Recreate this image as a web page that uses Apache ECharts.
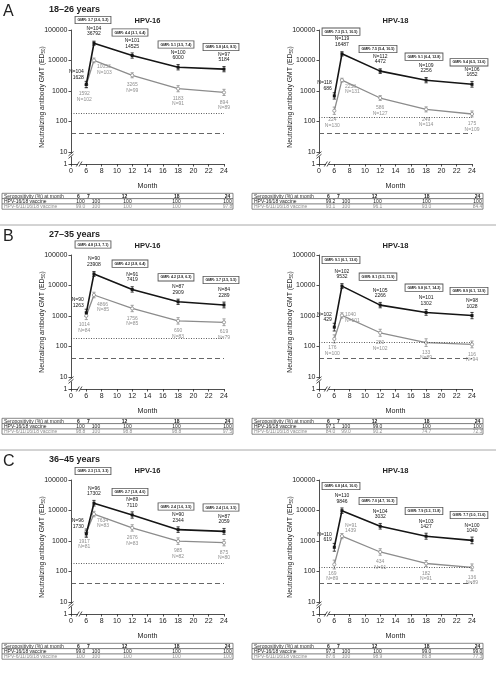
<!DOCTYPE html>
<html><head><meta charset="utf-8">
<script src="https://cdn.jsdelivr.net/npm/echarts@6/dist/echarts.min.js"></script>
<style>html,body{margin:0;padding:0;background:#fff}#c{width:496px;height:674px}</style>
</head><body><div id="c"></div>
<script>
// ---------------- DATA ----------------
const months = [6, 7, 12, 18, 24];
const tableMonths = ['6', '7', '12', '18', '24'];
const panelLetters = ['A', 'B', 'C'];
const ageGroups = ['18–26 years', '27–35 years', '36–45 years'];
const hpvTypes = ['HPV-16', 'HPV-18'];
const vaccineNames = ['HPV-16/18 vaccine', 'HPV-6/11/16/18 vaccine'];
const tableHeader = 'Seropositivity (%) at month';
const naturalInfectionLevel = [180, 137];
const seroCutoff = 40;

// Panel A, HPV-16
const gmtA16_bi = [1628, 36792, 14525, 6000, 5184];
const nA16_bi = [104, 104, 101, 100, 97];
const loA16_bi = [1280, 31500, 11900, 4900, 4250];
const hiA16_bi = [2070, 43000, 17700, 7350, 6320];
const gmtA16_qv = [1592, 10053, 3265, 1183, 894];
const nA16_qv = [102, 103, 99, 91, 89];
const loA16_qv = [1280, 8400, 2700, 940, 710];
const hiA16_qv = [1980, 12000, 3950, 1490, 1130];
const gmrA16 = ['GMR: 3.7 (2.6, 5.2)', 'GMR: 4.4 (3.1, 6.4)', 'GMR: 5.1 (3.5, 7.4)', 'GMR: 5.8 (4.0, 8.5)'];
const seroA16_bi = ['100', '100', '100', '100', '100'];
const seroA16_qv = ['99.0', '100', '100', '100', '97.8'];
// Panel A, HPV-18
const gmtA18_bi = [686, 16487, 4472, 2256, 1652];
const nA18_bi = [118, 119, 112, 109, 106];
const loA18_bi = [540, 14000, 3750, 1850, 1330];
const hiA18_bi = [870, 19400, 5330, 2750, 2050];
const gmtA18_qv = [224, 2258, 586, 249, 175];
const nA18_qv = [130, 131, 127, 114, 109];
const loA18_qv = [170, 1950, 490, 205, 140];
const hiA18_qv = [295, 2610, 700, 300, 220];
const gmrA18 = ['GMR: 7.3 (5.1, 10.5)', 'GMR: 7.5 (5.4, 10.5)', 'GMR: 9.1 (6.4, 12.8)', 'GMR: 9.4 (6.5, 13.6)'];
const seroA18_bi = ['99.2', '100', '100', '100', '100'];
const seroA18_qv = ['93.1', '100', '96.1', '93.0', '84.4'];
// Panel B, HPV-16
const gmtB16_bi = [1263, 23908, 7419, 2909, 2289];
const nB16_bi = [90, 90, 91, 87, 84];
const loB16_bi = [960, 19900, 6050, 2380, 1840];
const hiB16_bi = [1660, 28700, 9100, 3550, 2850];
const gmtB16_qv = [1014, 4866, 1756, 690, 619];
const nB16_qv = [84, 85, 85, 83, 79];
const loB16_qv = [760, 3950, 1380, 540, 480];
const hiB16_qv = [1350, 6000, 2230, 880, 800];
const gmrB16 = ['GMR: 4.8 (3.3, 7.1)', 'GMR: 4.2 (2.8, 6.4)', 'GMR: 4.2 (2.8, 6.3)', 'GMR: 3.7 (2.5, 5.5)'];
const seroB16_bi = ['100', '100', '100', '100', '100'];
const seroB16_qv = ['98.8', '100', '98.8', '98.8', '97.5'];
// Panel B, HPV-18
const gmtB18_bi = [429, 9532, 2266, 1302, 1028];
const nB18_bi = [102, 102, 105, 101, 98];
const loB18_bi = [320, 7900, 1850, 1050, 810];
const hiB18_bi = [575, 11500, 2780, 1610, 1300];
const gmtB18_qv = [176, 1040, 280, 133, 116];
const nB18_qv = [100, 101, 102, 89, 94];
const loB18_qv = [130, 850, 215, 100, 90];
const hiB18_qv = [240, 1270, 365, 178, 150];
const gmrB18 = ['GMR: 9.1 (6.1, 13.6)', 'GMR: 8.1 (5.5, 11.9)', 'GMR: 9.8 (6.7, 14.2)', 'GMR: 8.9 (6.1, 12.9)'];
const seroB18_bi = ['97.1', '100', '99.0', '100', '100'];
const seroB18_qv = ['84.0', '99.0', '90.2', '74.7', '72.3'];
// Panel C, HPV-16
const gmtC16_bi = [1730, 17302, 7110, 2344, 2059];
const nC16_bi = [96, 96, 89, 90, 87];
const loC16_bi = [1320, 14000, 5600, 1900, 1650];
const hiC16_bi = [2270, 21400, 9000, 2900, 2570];
const gmtC16_qv = [1917, 7634, 2676, 985, 875];
const nC16_qv = [81, 83, 83, 82, 80];
const loC16_qv = [1450, 6200, 2100, 770, 690];
const hiC16_qv = [2530, 9400, 3400, 1260, 1110];
const gmrC16 = ['GMR: 2.3 (1.5, 3.3)', 'GMR: 2.7 (1.8, 4.0)', 'GMR: 2.4 (1.6, 3.5)', 'GMR: 2.4 (1.6, 3.5)'];
const seroC16_bi = ['99.0', '100', '100', '100', '100'];
const seroC16_qv = ['100', '100', '100', '100', '100'];
// Panel C, HPV-18
const gmtC18_bi = [619, 9846, 3032, 1427, 1040];
const nC18_bi = [110, 110, 104, 103, 100];
const loC18_bi = [460, 8000, 2450, 1140, 810];
const hiC18_bi = [830, 12100, 3750, 1790, 1340];
const gmtC18_qv = [169, 1439, 434, 182, 136];
const nC18_qv = [89, 91, 91, 91, 89];
const loC18_qv = [120, 1180, 340, 145, 105];
const hiC18_qv = [235, 1750, 555, 228, 176];
const gmrC18 = ['GMR: 6.8 (4.6, 10.0)', 'GMR: 7.0 (4.7, 10.3)', 'GMR: 7.9 (5.3, 11.8)', 'GMR: 7.7 (5.0, 11.6)'];
const seroC18_bi = ['97.3', '100', '100', '99.0', '99.0'];
const seroC18_qv = ['87.6', '100', '98.9', '86.8', '77.3'];

// ---------------- LAYOUT ----------------
const FONT = '"Liberation Sans", Arial, Helvetica, sans-serif';
const BLACK = '#151515', GRAY = '#8c8c8c', GRAYTXT = '#909090', DARK = '#222';
const panelDy = [0, 225, 450];
const gridLeft = [71, 319];
const GRID_TOP = 30, GRID_H = 134, GRID_W = 153;
const gmrBoxX = [22, 59, 105, 150];
const gmrBoxY = [[20, 32.5, 44.5, 47], [31.7, 49, 56.7, 62.3], [19.5, 38.7, 52.3, 55], [35, 51.7, 62.7, 66], [21, 42, 56.5, 57.5], [36, 51, 61, 65]];
const qv7Offset = [9, 9, 12, 2, 9, -8];

const charts = [
  {p:0,s:0,bi:gmtA16_bi,biN:nA16_bi,biLo:loA16_bi,biHi:hiA16_bi,qv:gmtA16_qv,qvN:nA16_qv,qvLo:loA16_qv,qvHi:hiA16_qv,gmr:gmrA16,sBi:seroA16_bi,sQv:seroA16_qv},
  {p:0,s:1,bi:gmtA18_bi,biN:nA18_bi,biLo:loA18_bi,biHi:hiA18_bi,qv:gmtA18_qv,qvN:nA18_qv,qvLo:loA18_qv,qvHi:hiA18_qv,gmr:gmrA18,sBi:seroA18_bi,sQv:seroA18_qv},
  {p:1,s:0,bi:gmtB16_bi,biN:nB16_bi,biLo:loB16_bi,biHi:hiB16_bi,qv:gmtB16_qv,qvN:nB16_qv,qvLo:loB16_qv,qvHi:hiB16_qv,gmr:gmrB16,sBi:seroB16_bi,sQv:seroB16_qv},
  {p:1,s:1,bi:gmtB18_bi,biN:nB18_bi,biLo:loB18_bi,biHi:hiB18_bi,qv:gmtB18_qv,qvN:nB18_qv,qvLo:loB18_qv,qvHi:hiB18_qv,gmr:gmrB18,sBi:seroB18_bi,sQv:seroB18_qv},
  {p:2,s:0,bi:gmtC16_bi,biN:nC16_bi,biLo:loC16_bi,biHi:hiC16_bi,qv:gmtC16_qv,qvN:nC16_qv,qvLo:loC16_qv,qvHi:hiC16_qv,gmr:gmrC16,sBi:seroC16_bi,sQv:seroC16_qv},
  {p:2,s:1,bi:gmtC18_bi,biN:nC18_bi,biLo:loC18_bi,biHi:hiC18_bi,qv:gmtC18_qv,qvN:nC18_qv,qvLo:loC18_qv,qvHi:hiC18_qv,gmr:gmrC18,sBi:seroC18_bi,sQv:seroC18_qv}
];

const grids = [], xAxes = [], yAxes = [], series = [], graphics = [];

function errSeries(i, lo, hi, color) {
  return {
    type: 'custom', xAxisIndex: i, yAxisIndex: i, silent: true, z: 3,
    encode: {x: 0, y: [1, 2]},
    data: months.map((m, k) => [m, lo[k], hi[k]]),
    renderItem: function (params, api) {
      const a = api.coord([api.value(0), api.value(1)]);
      const b = api.coord([api.value(0), api.value(2)]);
      const st = {stroke: color, lineWidth: 0.8};
      return {type: 'group', children: [
        {type: 'line', shape: {x1: a[0], y1: a[1], x2: b[0], y2: b[1]}, style: st},
        {type: 'line', shape: {x1: a[0] - 1.6, y1: a[1], x2: a[0] + 1.6, y2: a[1]}, style: st},
        {type: 'line', shape: {x1: b[0] - 1.6, y1: b[1], x2: b[0] + 1.6, y2: b[1]}, style: st}
      ]};
    }
  };
}

const lblBase = {show: true, fontFamily: FONT, fontSize: 5, lineHeight: 5.6, align: 'center'};

charts.forEach((c, i) => {
  const dy = panelDy[c.p], gl = gridLeft[c.s];
  grids.push({left: gl, top: dy + GRID_TOP, width: GRID_W, height: GRID_H, containLabel: false, outerBoundsMode: 'none'});
  xAxes.push({
    gridIndex: i, type: 'value', min: 4, max: 24, interval: 2,
    name: 'Month', nameLocation: 'middle', nameGap: 19, nameMoveOverlap: false,
    nameTextStyle: {fontFamily: FONT, fontSize: 7.2, color: DARK},
    axisLine: {show: true, onZero: false, lineStyle: {color: DARK, width: 0.8}},
    axisTick: {show: true, length: 2.5, lineStyle: {color: DARK, width: 0.8}},
    axisLabel: {fontFamily: FONT, fontSize: 7, color: DARK, margin: 3.5, formatter: v => v === 4 ? '0' : String(v)},
    splitLine: {show: false}
  });
  yAxes.push({
    gridIndex: i, type: 'log', logBase: 10, min: 4, max: 100000,
    name: '{a|Neutralizing antibody GMT (ED}{s|50}{a|)}', nameLocation: 'middle', nameGap: 25, nameMoveOverlap: false,
    nameTextStyle: {rich: {a: {fontFamily: FONT, fontSize: 6.8, color: DARK}, s: {fontFamily: FONT, fontSize: 4.5, color: DARK, padding: [3, 0, 0, 0]}}},
    axisLine: {show: true, onZero: false, lineStyle: {color: DARK, width: 0.8}},
    axisTick: {show: true, length: 2.5, lineStyle: {color: DARK, width: 0.8}},
    minorTick: {show: false},
    axisLabel: {fontFamily: FONT, fontSize: 7, color: DARK, margin: 3.5, formatter: v => v < 5 ? '1' : String(Math.round(v))},
    splitLine: {show: false}
  });
  // reference lines
  series.push({
    type: 'line', xAxisIndex: i, yAxisIndex: i, data: [], silent: true,
    markLine: {silent: true, symbol: 'none', label: {show: false}, animation: false,
      data: [
        {yAxis: naturalInfectionLevel[c.s], lineStyle: {type: [1, 1.5], color: '#333', width: 0.8}},
        {yAxis: seroCutoff, lineStyle: {type: [5, 3], color: '#555', width: 0.9}}
      ]}
  });
  series.push(errSeries(i, c.qvLo, c.qvHi, GRAY));
  series.push(errSeries(i, c.biLo, c.biHi, BLACK));
  // quadrivalent (gray)
  series.push({
    type: 'line', xAxisIndex: i, yAxisIndex: i, z: 4,
    symbol: 'circle', symbolSize: 3.2, showAllSymbol: true,
    lineStyle: {color: GRAY, width: 1.3}, itemStyle: {color: '#fff', borderColor: GRAY, borderWidth: 0.8},
    data: months.map((m, k) => {
      let label;
      if (k === 0) label = {position: 'bottom', distance: 4, offset: [-2, 0]};
      else if (k === 1) label = {position: 'right', distance: 1, offset: [0, qv7Offset[i]], align: 'left'};
      else label = {position: 'bottom', distance: 5};
      return {value: [m, c.qv[k]], label: label};
    }),
    label: Object.assign({}, lblBase, {color: GRAYTXT, formatter: p => {
      const k = p.dataIndex;
      if (i === 5 && k === 1) return 'N=' + c.qvN[k] + '\n' + c.qv[k];
      return c.qv[k] + '\nN=' + c.qvN[k];
    }})
  });
  // bivalent (black)
  series.push({
    type: 'line', xAxisIndex: i, yAxisIndex: i, z: 5,
    symbol: 'rect', symbolSize: 3, showAllSymbol: true,
    lineStyle: {color: BLACK, width: 1.6}, itemStyle: {color: BLACK},
    data: months.map((m, k) => {
      let label;
      if (k === 0) label = {position: 'left', distance: 1, offset: [0, -10], align: 'right'};
      else label = {position: 'top', distance: 5};
      return {value: [m, c.bi[k]], label: label};
    }),
    label: Object.assign({}, lblBase, {color: BLACK, formatter: p => 'N=' + c.biN[p.dataIndex] + '\n' + c.bi[p.dataIndex]})
  });

  // chart title
  graphics.push({type: 'text', z: 100, style: {x: gl + GRID_W / 2, y: dy + 20.5, text: hpvTypes[c.s], font: 'bold 7.5px ' + FONT, fill: DARK, align: 'center', verticalAlign: 'middle'}});
  // GMR boxes
  c.gmr.forEach((g, k) => {
    graphics.push({type: 'text', z: 100, style: {x: gl + gmrBoxX[k], y: dy + gmrBoxY[i][k], text: g, font: 'bold 3.6px ' + FONT, fill: DARK, align: 'center', verticalAlign: 'middle', backgroundColor: '#fff', borderColor: '#555', borderWidth: 0.9, padding: [1.2, 2]}});
  });
  // axis break marks
  const bs = {stroke: DARK, lineWidth: 0.8};
  graphics.push({type: 'rect', z: 100, shape: {x: gl - 1.5, y: dy + 153.5, width: 3, height: 3}, style: {fill: '#fff'}});
  graphics.push({type: 'line', z: 101, shape: {x1: gl - 2.5, y1: dy + 155.8, x2: gl + 2.5, y2: dy + 151.6}, style: bs});
  graphics.push({type: 'line', z: 101, shape: {x1: gl - 2.5, y1: dy + 158.4, x2: gl + 2.5, y2: dy + 154.2}, style: bs});
  graphics.push({type: 'rect', z: 100, shape: {x: gl + 7, y: dy + 162.5, width: 2.5, height: 3}, style: {fill: '#fff'}});
  graphics.push({type: 'line', z: 101, shape: {x1: gl + 5.3, y1: dy + 166.5, x2: gl + 8.3, y2: dy + 161.5}, style: bs});
  graphics.push({type: 'line', z: 101, shape: {x1: gl + 8, y1: dy + 166.5, x2: gl + 11, y2: dy + 161.5}, style: bs});

  // table
  const tx = c.s === 0 ? 2 : 252, ty = dy + 193.3, rh = 5.3, tw = 231;
  graphics.push({type: 'rect', z: 100, shape: {x: tx, y: ty, width: tw, height: rh * 3}, style: {fill: null, stroke: '#555', lineWidth: 0.7}});
  graphics.push({type: 'line', z: 100, shape: {x1: tx, y1: ty + rh, x2: tx + tw, y2: ty + rh}, style: {stroke: '#444', lineWidth: 0.7}});
  graphics.push({type: 'line', z: 100, shape: {x1: tx, y1: ty + 2 * rh, x2: tx + tw, y2: ty + 2 * rh}, style: {stroke: '#444', lineWidth: 0.7}});
  const hdrX = [76.5, 86.5, 122.5, 174.7, 225.5];
  const valX = [78.5, 94, 125.5, 174.5, 225.5];
  const tf = '5px ' + FONT;
  graphics.push({type: 'text', z: 100, style: {x: tx + 2, y: ty + rh / 2 + 0.2, text: tableHeader, font: tf, fill: '#333', verticalAlign: 'middle'}});
  graphics.push({type: 'text', z: 100, style: {x: tx + 2, y: ty + rh * 1.5 + 0.2, text: vaccineNames[0], font: tf, fill: DARK, verticalAlign: 'middle'}});
  graphics.push({type: 'text', z: 100, style: {x: tx + 2, y: ty + rh * 2.5 + 0.2, text: vaccineNames[1], font: tf, fill: GRAYTXT, verticalAlign: 'middle'}});
  tableMonths.forEach((m, k) => {
    graphics.push({type: 'text', z: 100, style: {x: tx + hdrX[k], y: ty + rh / 2 + 0.2, text: m, font: 'bold ' + tf, fill: DARK, align: 'center', verticalAlign: 'middle'}});
    graphics.push({type: 'text', z: 100, style: {x: tx + valX[k], y: ty + rh * 1.5 + 0.2, text: c.sBi[k], font: tf, fill: DARK, align: 'center', verticalAlign: 'middle'}});
    graphics.push({type: 'text', z: 100, style: {x: tx + valX[k], y: ty + rh * 2.5 + 0.2, text: c.sQv[k], font: tf, fill: GRAYTXT, align: 'center', verticalAlign: 'middle'}});
  });
});

// panel letters, age titles, separators
panelLetters.forEach((L, p) => {
  const dy = panelDy[p];
  graphics.push({type: 'text', z: 100, style: {x: 3, y: dy + 11.5, text: L, font: '16px ' + FONT, fill: DARK, verticalAlign: 'middle'}});
  graphics.push({type: 'text', z: 100, style: {x: 49, y: dy + 9.5, text: ageGroups[p], font: 'bold 9px ' + FONT, fill: DARK, verticalAlign: 'middle'}});
  if (p > 0) graphics.push({type: 'line', z: 100, shape: {x1: 0, y1: dy, x2: 496, y2: dy}, style: {stroke: '#a8a8a8', lineWidth: 1}});
});

const chart = echarts.init(document.getElementById('c'), null, {renderer: 'canvas', width: 496, height: 674});
chart.setOption({
  animation: false,
  backgroundColor: '#fff',
  grid: grids, xAxis: xAxes, yAxis: yAxes, series: series, graphic: graphics,
  tooltip: {show: false}
});
</script></body></html>
